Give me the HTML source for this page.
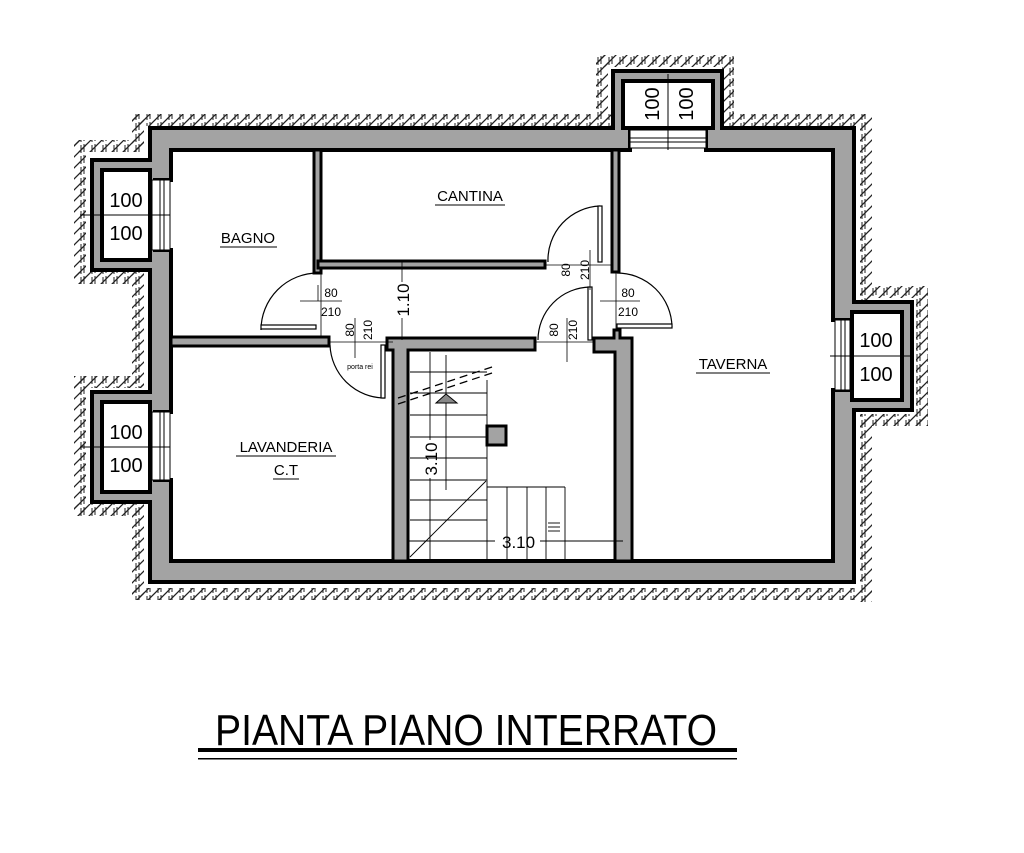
<!DOCTYPE html>
<html><head><meta charset="utf-8"><style>
html,body{margin:0;padding:0;background:#fff}
svg{display:block}
text{font-family:"Liberation Sans",sans-serif;fill:#000}
</style></head><body>
<svg width="1024" height="853" viewBox="0 0 1024 853" xmlns="http://www.w3.org/2000/svg">
<defs>
<pattern id="h" patternUnits="userSpaceOnUse" width="11" height="11">
<path d="M0 11 L11 0 M-2 2 L2 -2 M9 13 L13 9" stroke="#222" stroke-width="1.3"/>
<path d="M4 10 L4 2 M7 9 L7 1" stroke="#222" stroke-width="1"/>
</pattern>
</defs>

<g fill="url(#h)">
<rect x="132" y="114" width="482" height="12"/>
<rect x="596" y="55" width="136" height="12"/>
<rect x="596" y="55" width="12" height="72"/>
<rect x="722" y="55" width="12" height="72"/>
<rect x="722" y="114" width="146" height="12"/>
<rect x="860" y="114" width="12" height="188"/>
<rect x="860" y="286" width="68" height="12"/>
<rect x="916" y="286" width="12" height="140"/>
<rect x="860" y="414" width="68" height="12"/>
<rect x="860" y="414" width="12" height="188"/>
<rect x="132" y="588" width="740" height="12"/>
<rect x="132" y="502" width="12" height="98"/>
<rect x="74" y="504" width="70" height="12"/>
<rect x="74" y="376" width="12" height="140"/>
<rect x="74" y="376" width="70" height="12"/>
<rect x="132" y="272" width="12" height="116"/>
<rect x="74" y="272" width="70" height="12"/>
<rect x="74" y="140" width="12" height="144"/>
<rect x="74" y="140" width="70" height="12"/>
<rect x="132" y="114" width="12" height="38"/>
</g>

<path d="M150 128 H613 V71 H722 V128 H854 V302 H912 V410 H854 V582 H150 V502 H92 V392 H150 V270 H92 V160 H150 Z" fill="#a3a3a3" stroke="#000" stroke-width="4"/>
<path d="M171 150 H630 V128 H706 V150 H833 V320 H850 V390 H833 V561 H171 V480 H155 V412 H171 V250 H155 V180 H171 Z" fill="#fff" stroke="#000" stroke-width="4"/>
<rect x="102" y="170" width="48" height="90" fill="#fff" stroke="#000" stroke-width="4"/>
<rect x="102" y="402" width="48" height="90" fill="#fff" stroke="#000" stroke-width="4"/>
<rect x="623" y="81" width="90" height="47" fill="#fff" stroke="#000" stroke-width="4"/>
<rect x="852" y="312" width="50" height="88" fill="#fff" stroke="#000" stroke-width="4"/>
<g fill="#fff" stroke="#000" stroke-width="1">
<rect x="152" y="180" width="18" height="70"/>
<rect x="152" y="412" width="18" height="68"/>
<rect x="630" y="130" width="76" height="18"/>
<rect x="835" y="320" width="15" height="70"/>
</g>
<g stroke="#000" stroke-width="1">
<line x1="160" y1="180" x2="160" y2="250"/><line x1="164" y1="180" x2="164" y2="250"/>
<line x1="160" y1="412" x2="160" y2="480"/><line x1="164" y1="412" x2="164" y2="480"/>
<line x1="630" y1="138" x2="706" y2="138"/><line x1="630" y1="142" x2="706" y2="142"/>
<line x1="841" y1="320" x2="841" y2="390"/><line x1="845" y1="320" x2="845" y2="390"/>
<line x1="80" y1="215" x2="170" y2="215"/>
<line x1="80" y1="447" x2="170" y2="447"/>
<line x1="668" y1="74" x2="668" y2="150"/>
<line x1="830" y1="356" x2="912" y2="356"/>
</g>

<g fill="#a3a3a3" stroke="#000" stroke-width="3">
<rect x="314" y="150" width="7" height="123"/>
<rect x="318" y="261" width="227" height="7"/>
<rect x="612" y="150" width="7" height="122"/>
<rect x="171" y="337" width="158" height="9"/>
<path d="M387 338 H535 V350 H408 V561 H393 V350 H387 Z"/>
<path d="M594 338 H614 V330 H620 V338 H632 V561 H615 V352 H594 Z"/>
</g>

<g fill="none" stroke="#000" stroke-width="1.2">
<path d="M318 273 A57 57 0 0 0 261 330"/>
<rect x="261" y="325" width="55" height="4" fill="#fff"/>
<path d="M548 262 A54 54 0 0 1 600 206"/>
<rect x="598" y="206" width="4" height="56" fill="#fff"/>
<path d="M330 345 A55 55 0 0 0 385 398"/>
<rect x="381" y="345" width="4" height="53" fill="#fff"/>
<path d="M538 340 A53 53 0 0 1 590 287"/>
<rect x="588" y="287" width="4" height="53" fill="#fff"/>
<path d="M617 273 A55 55 0 0 1 672 327"/>
<rect x="617" y="324" width="55" height="4" fill="#fff"/>
</g>
<g stroke="#000" stroke-width="0.8">
<line x1="545" y1="265" x2="612" y2="265"/>
<line x1="321" y1="273" x2="321" y2="337"/>
<line x1="329" y1="342" x2="393" y2="342"/>
<line x1="535" y1="342" x2="594" y2="342"/>
<line x1="616" y1="272" x2="616" y2="330"/>
<line x1="300" y1="301" x2="342" y2="301"/>
<line x1="318" y1="285" x2="318" y2="301"/>
<line x1="600" y1="301" x2="640" y2="301"/>
<line x1="590" y1="250" x2="590" y2="290"/>
<line x1="355" y1="318" x2="355" y2="358"/>
<line x1="567" y1="318" x2="567" y2="362"/>
<line x1="402" y1="262" x2="402" y2="282"/>
<line x1="402" y1="318" x2="402" y2="340"/>
</g>

<g stroke="#000" stroke-width="0.9" fill="none">
<line x1="410" y1="372" x2="487" y2="372"/>
<line x1="410" y1="393" x2="487" y2="393"/>
<line x1="410" y1="415" x2="487" y2="415"/>
<line x1="410" y1="437" x2="487" y2="437"/>
<line x1="410" y1="458" x2="487" y2="458"/>
<line x1="410" y1="480" x2="487" y2="480"/>
<line x1="410" y1="500" x2="487" y2="500"/>
<line x1="410" y1="520" x2="487" y2="520"/>
<line x1="487" y1="380" x2="487" y2="561"/>
<line x1="487" y1="487" x2="565" y2="487"/>
<line x1="507" y1="487" x2="507" y2="561"/>
<line x1="527" y1="487" x2="527" y2="561"/>
<line x1="546" y1="487" x2="546" y2="561"/>
<line x1="565" y1="487" x2="565" y2="561"/>
<line x1="486" y1="481" x2="410" y2="557"/>
<line x1="446" y1="355" x2="446" y2="490"/>
<path d="M398 398 L495 366 M398 404 L495 372" stroke-dasharray="8,5" stroke-width="1.3"/>
<line x1="408" y1="541" x2="495" y2="541"/><line x1="540" y1="541" x2="623" y2="541"/>
<line x1="430" y1="352" x2="430" y2="440"/><line x1="430" y1="478" x2="430" y2="561"/>
<line x1="548" y1="523" x2="560" y2="523"/><line x1="548" y1="527" x2="560" y2="527"/><line x1="548" y1="531" x2="560" y2="531"/>
</g>
<path d="M436 403 L446 394 L457 403 Z" fill="#888" stroke="#000" stroke-width="1"/>
<rect x="487" y="426" width="19" height="19" fill="#a3a3a3" stroke="#000" stroke-width="3"/>
<text x="502" y="548" font-size="17">3.10</text>
<text transform="translate(437,459) rotate(-90)" font-size="17" text-anchor="middle">3.10</text>

<g font-size="20">
<text x="126" y="207" text-anchor="middle">100</text>
<text x="126" y="240" text-anchor="middle">100</text>
<text x="126" y="439" text-anchor="middle">100</text>
<text x="126" y="472" text-anchor="middle">100</text>
<text x="876" y="347" text-anchor="middle">100</text>
<text x="876" y="381" text-anchor="middle">100</text>
<text transform="translate(659,104) rotate(-90)" text-anchor="middle">100</text>
<text transform="translate(693,104) rotate(-90)" text-anchor="middle">100</text>
</g>
<g font-size="15" text-anchor="middle">
<text x="248" y="243">BAGNO</text>
<text x="470" y="201">CANTINA</text>
<text x="733" y="369">TAVERNA</text>
<text x="286" y="452">LAVANDERIA</text>
<text x="286" y="475">C.T</text>
</g>
<g stroke="#000" stroke-width="1">
<line x1="220" y1="247" x2="277" y2="247"/>
<line x1="435" y1="205" x2="505" y2="205"/>
<line x1="696" y1="373" x2="770" y2="373"/>
<line x1="236" y1="456" x2="336" y2="456"/>
<line x1="273" y1="479" x2="299" y2="479"/>
</g>
<g font-size="12" text-anchor="middle">
<text x="331" y="297">80</text>
<text x="331" y="316">210</text>
<text x="628" y="297">80</text>
<text x="628" y="316">210</text>
<text transform="translate(354,330) rotate(-90)">80</text>
<text transform="translate(372,330) rotate(-90)">210</text>
<text transform="translate(570,270) rotate(-90)">80</text>
<text transform="translate(589,270) rotate(-90)">210</text>
<text transform="translate(558,330) rotate(-90)">80</text>
<text transform="translate(577,330) rotate(-90)">210</text>
<text x="360" y="369" font-size="7">porta rei</text>
<text transform="translate(409,300) rotate(-90)" font-size="17">1.10</text>
</g>

<text x="215" y="745" font-size="44" textLength="502" lengthAdjust="spacingAndGlyphs">PIANTA PIANO INTERRATO</text>
<rect x="198" y="748" width="539" height="4" fill="#000"/>
<rect x="198" y="758" width="539" height="1.5" fill="#000"/>
</svg>
</body></html>
